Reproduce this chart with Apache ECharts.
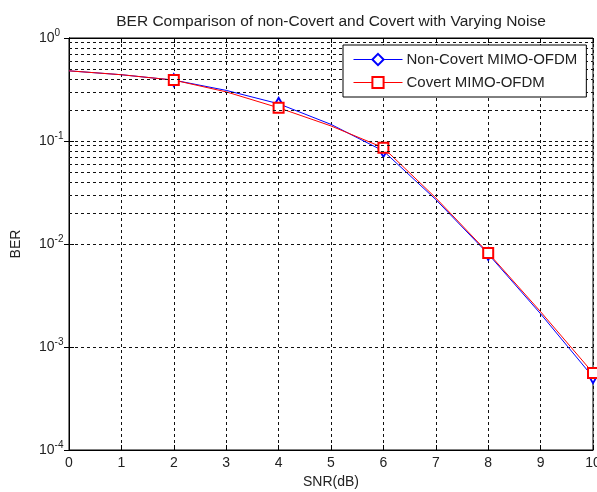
<!DOCTYPE html>
<html>
<head>
<meta charset="utf-8">
<script src="https://cdn.jsdelivr.net/npm/echarts@6/dist/echarts.min.js"></script>
<style>
html, body { margin: 0; padding: 0; background: #fff; }
#main { width: 597px; height: 492px; }
</style>
</head>
<body>
<div id="main"></div>
<script>
// SNR 点（dB）
var snr = [0, 1, 2, 3, 4, 5, 6, 7, 8, 9, 10];
// 误码率
var nonCovert = [0.48, 0.44, 0.39, 0.31, 0.23, 0.145, 0.080, 0.027, 0.0080, 0.0021, 0.00051];
var covert = [0.48, 0.44, 0.39, 0.30, 0.21, 0.14, 0.086, 0.028, 0.0082, 0.0022, 0.00056];
// 只在偶数点画标记
var markerAt = [2, 4, 6, 8, 10];
// 对数轴次网格
var minorDecades = [-4, -3, -2, -1];
var minorSteps = [2, 3, 4, 5, 6, 7, 8, 9];

var font = 'Liberation Sans, Arial, sans-serif';
var gridDash = { color: '#111', width: 1, type: [3, 3] };

var minorLines = [];
minorDecades.forEach(function (d) {
    minorSteps.forEach(function (m) {
        minorLines.push({ yAxis: m * Math.pow(10, d) });
    });
});

function makeData(ys, sym) {
    return snr.map(function (x, i) {
        return {
            value: [x, ys[i]],
            symbol: markerAt.indexOf(x) >= 0 ? sym : 'none'
        };
    });
}

var chart = echarts.init(document.getElementById('main'));
chart.setOption({
    animation: false,
    backgroundColor: '#fff',
    textStyle: { fontFamily: font },
    title: {
        text: 'BER Comparison of non-Covert and Covert with Varying Noise',
        left: 326, top: 9, textAlign: 'center',
        textStyle: { fontSize: 15.5, fontWeight: 'normal', color: '#222', fontFamily: font }
    },
    legend: {
        left: 343, top: 45, z: 20,
        orient: 'vertical',
        backgroundColor: '#fff',
        borderColor: '#000', borderWidth: 1, borderRadius: 0,
        padding: [7, 9, 7, 10],
        itemWidth: 49, itemHeight: 14, itemGap: 8,
        lineStyle: { width: 1 },
        textStyle: { fontSize: 15, color: '#222', fontFamily: font, padding: [0, 0, 0, -1] },
        data: ['Non-Covert MIMO-OFDM', 'Covert MIMO-OFDM']
    },
    grid: {
        left: 69, right: 4, top: 38, bottom: 42,
        outerBoundsMode: 'none',
        show: true, borderColor: '#000', borderWidth: 1
    },
    xAxis: [{
        type: 'value', min: 0, max: 10, interval: 1,
        name: 'SNR(dB)', nameLocation: 'middle', nameGap: 23,
        nameTextStyle: { fontSize: 14, color: '#222' },
        axisLine: { lineStyle: { color: '#000' } },
        axisTick: { inside: true, length: 5, lineStyle: { color: '#000' } },
        axisLabel: { fontSize: 14, color: '#222', margin: 6 },
        splitLine: { lineStyle: gridDash }
    }, {
        type: 'value', min: 0, max: 10, interval: 1, position: 'top',
        axisLine: { lineStyle: { color: '#000' } },
        axisTick: { inside: true, length: 5, lineStyle: { color: '#000' } },
        axisLabel: { show: false }, splitLine: { show: false }
    }],
    yAxis: [{
        type: 'log', logBase: 10, min: 1e-4, max: 1,
        name: 'BER', nameLocation: 'middle', nameGap: 46, nameRotate: 90,
        nameTextStyle: { fontSize: 14, color: '#222' },
        axisLine: { show: true, lineStyle: { color: '#000' } },
        axisTick: { show: true, inside: true, length: 5, lineStyle: { color: '#000' } },
        axisLabel: {
            fontSize: 14, color: '#222', margin: 30, align: 'left',
            formatter: function (v) {
                return '10{sup|' + Math.round(Math.log10(v)) + '}';
            },
            rich: { sup: { fontSize: 10, color: '#222', padding: [0, 0, 9, 0] } }
        },
        splitLine: { lineStyle: gridDash }
    }, {
        type: 'log', logBase: 10, min: 1e-4, max: 1, position: 'right',
        axisLine: { show: true, lineStyle: { color: '#000' } },
        axisTick: { show: true, inside: true, length: 5, lineStyle: { color: '#000' } },
        axisLabel: { show: false }, splitLine: { show: false }
    }],
    series: [{
        name: 'grid-minor', type: 'line', data: [], silent: true,
        markLine: { silent: true, symbol: 'none', label: { show: false }, lineStyle: gridDash, data: minorLines }
    }, {
        name: 'Non-Covert MIMO-OFDM', type: 'line',
        data: makeData(nonCovert, 'emptyDiamond'),
        symbol: 'emptyDiamond', symbolSize: [7, 12],
        color: '#0000ff',
        lineStyle: { width: 1, color: '#0000ff' },
        itemStyle: { color: '#0000ff', borderWidth: 1 },
        z: 3
    }, {
        name: 'Covert MIMO-OFDM', type: 'line',
        data: makeData(covert, 'emptyRect'),
        symbol: 'emptyRect', symbolSize: 10,
        color: '#ff0000',
        lineStyle: { width: 1, color: '#ff0000' },
        itemStyle: { color: '#ff0000', borderWidth: 1 },
        z: 4
    }]
});
</script>
</body>
</html>
